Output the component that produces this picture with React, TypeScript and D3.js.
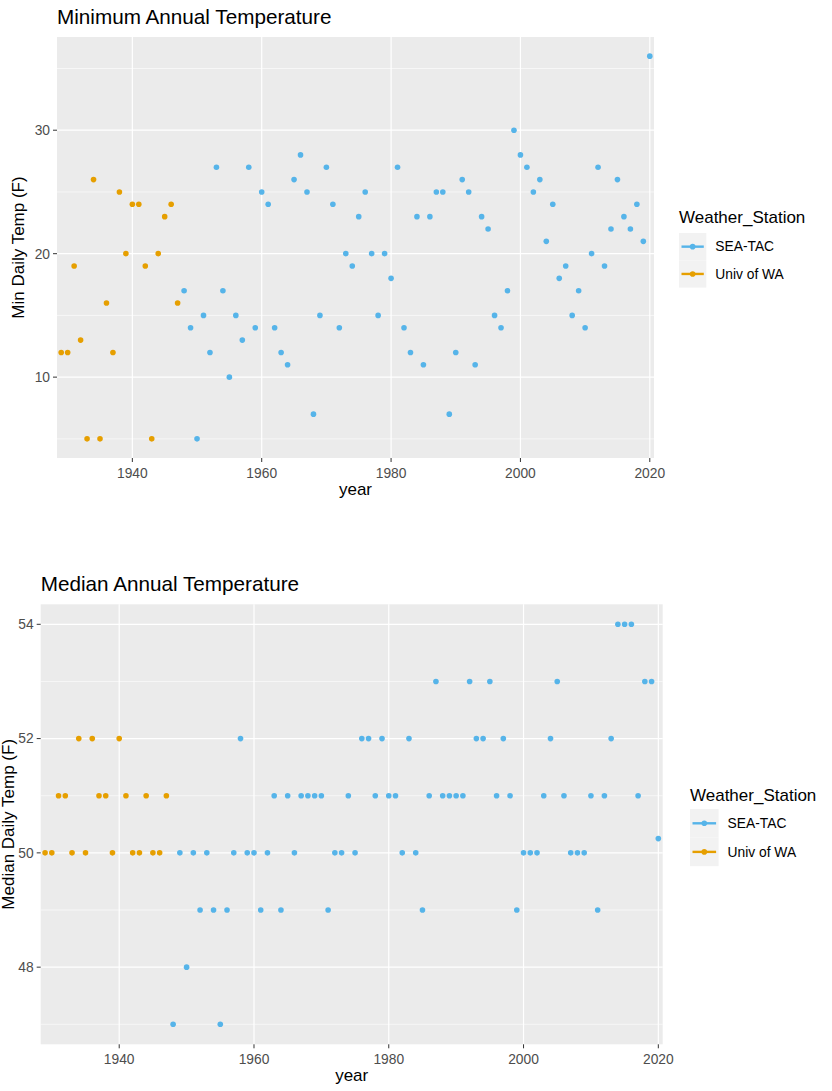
import React from "react";
import * as d3 from "d3";

// Univ of WA station (1929-1947)
const UW_YEARS = [1929, 1930, 1931, 1932, 1933, 1934, 1935, 1936, 1937, 1938, 1939, 1940, 1941, 1942, 1943, 1944, 1945, 1946, 1947];
const UW_MIN = [12, 12, 19, 13, 5, 26, 5, 16, 12, 25, 20, 24, 24, 19, 5, 20, 23, 24, 16];
const UW_MEDIAN = [50, 50, 51, 51, 50, 52, 50, 52, 51, 51, 50, 52, 51, 50, 50, 51, 50, 50, 51];

// SEA-TAC station (1948-2020)
const SEA_YEARS = [
  1948, 1949, 1950, 1951, 1952, 1953, 1954, 1955, 1956, 1957, 1958, 1959, 1960, 1961, 1962, 1963, 1964, 1965, 1966, 1967,
  1968, 1969, 1970, 1971, 1972, 1973, 1974, 1975, 1976, 1977, 1978, 1979, 1980, 1981, 1982, 1983, 1984, 1985, 1986, 1987,
  1988, 1989, 1990, 1991, 1992, 1993, 1994, 1995, 1996, 1997, 1998, 1999, 2000, 2001, 2002, 2003, 2004, 2005, 2006, 2007,
  2008, 2009, 2010, 2011, 2012, 2013, 2014, 2015, 2016, 2017, 2018, 2019, 2020,
];
const SEA_MIN = [
  17, 14, 5, 15, 12, 27, 17, 10, 15, 13, 27, 14, 25, 24, 14, 12, 11, 26, 28, 25,
  7, 15, 27, 24, 14, 20, 19, 23, 25, 20, 15, 20, 18, 27, 14, 12, 23, 11, 23, 25,
  25, 7, 12, 26, 25, 11, 23, 22, 15, 14, 17, 30, 28, 27, 25, 26, 21, 24, 18, 19,
  15, 17, 14, 20, 27, 19, 22, 26, 23, 22, 24, 21, 36,
];
const SEA_MEDIAN = [
  47, 50, 48, 50, 49, 50, 49, 47, 49, 50, 52, 50, 50, 49, 50, 51, 49, 51, 50, 51,
  51, 51, 51, 49, 50, 50, 51, 50, 52, 52, 51, 52, 51, 51, 50, 52, 50, 49, 51, 53,
  51, 51, 51, 51, 53, 52, 52, 53, 51, 52, 51, 49, 50, 50, 50, 51, 52, 53, 51, 50,
  50, 50, 51, 49, 51, 52, 54, 54, 54, 51, 53, 53, 50.25,
];

const STATIONS = ["SEA-TAC", "Univ of WA"];
const STATION_COLORS: Record<string, string> = { "SEA-TAC": "#56B4E9", "Univ of WA": "#E69F00" };

const X_TICKS = [1940, 1960, 1980, 2000, 2020];
const MIN_Y_TICKS = [10, 20, 30];
const MEDIAN_Y_TICKS = [48, 50, 52, 54];

const FONT = "'Liberation Sans', Arial, Helvetica, sans-serif";
const PANEL_BG = "#EBEBEB";

type Pt = { year: number; value: number; station: string };

function buildPoints(uwVals: number[], seaVals: number[]): Pt[] {
  const uw = UW_YEARS.map((year, i) => ({ year, value: uwVals[i], station: "Univ of WA" }));
  const sea = SEA_YEARS.map((year, i) => ({ year, value: seaVals[i], station: "SEA-TAC" }));
  return [...uw, ...sea];
}

function ScatterPanel(props: {
  title: string;
  yLabel: string;
  points: Pt[];
  yTicks: number[];
  box: { left: number; right: number; top: number; bottom: number };
  titleY: number;
  yLabelX: number;
  legend: { x: number; titleY: number; keyTop: number; keySize: number };
}) {
  const { title, yLabel, points, yTicks, box, titleY, yLabelX, legend } = props;

  // x: small fixed padding, y: ggplot-style 5% expansion
  const [x0, x1] = d3.extent(points, (d) => d.year) as [number, number];
  const x = d3.scaleLinear().domain([x0 - 0.65, x1 + 0.65]).range([box.left, box.right]);
  const [y0, y1] = d3.extent(points, (d) => d.value) as [number, number];
  const pad = (y1 - y0) * 0.05;
  const y = d3.scaleLinear().domain([y0 - pad, y1 + pad]).range([box.bottom, box.top]);

  const step = yTicks[1] - yTicks[0];
  const yMinor = [...yTicks.map((t) => t - step / 2), yTicks[yTicks.length - 1] + step / 2].filter(
    (t) => t >= y.domain()[0] && t <= y.domain()[1]
  );

  const midY = (box.top + box.bottom) / 2;
  const midX = (box.left + box.right) / 2;

  return (
    <g>
      <text x={box.left} y={titleY} fontSize={20.7} fill="#000" fontFamily={FONT}>
        {title}
      </text>
      <rect x={box.left} y={box.top} width={box.right - box.left} height={box.bottom - box.top} fill={PANEL_BG} />
      {yMinor.map((t) => (
        <line key={"ym" + t} x1={box.left} x2={box.right} y1={y(t)} y2={y(t)} stroke="#fff" strokeWidth={0.6} />
      ))}
      {yTicks.map((t) => (
        <line key={"yM" + t} x1={box.left} x2={box.right} y1={y(t)} y2={y(t)} stroke="#fff" strokeWidth={1.2} />
      ))}
      {X_TICKS.map((t) => (
        <line key={"xM" + t} x1={x(t)} x2={x(t)} y1={box.top} y2={box.bottom} stroke="#fff" strokeWidth={1.2} />
      ))}

      {points.map((d, i) => (
        <circle key={i} cx={x(d.year)} cy={y(d.value)} r={2.8} fill={STATION_COLORS[d.station]} />
      ))}

      {/* y axis */}
      {yTicks.map((t) => (
        <g key={"yt" + t}>
          <line x1={box.left - 4} x2={box.left} y1={y(t)} y2={y(t)} stroke="#333" strokeWidth={1} />
          <text x={box.left - 7} y={y(t)} dy="0.35em" textAnchor="end" fontSize={13.8} fill="#4D4D4D" fontFamily={FONT}>
            {t}
          </text>
        </g>
      ))}
      {/* x axis */}
      {X_TICKS.map((t) => (
        <g key={"xt" + t}>
          <line x1={x(t)} x2={x(t)} y1={box.bottom} y2={box.bottom + 4} stroke="#333" strokeWidth={1} />
          <text x={x(t)} y={box.bottom + 20} textAnchor="middle" fontSize={13.8} fill="#4D4D4D" fontFamily={FONT}>
            {t}
          </text>
        </g>
      ))}
      <text x={midX} y={box.bottom + 37} textAnchor="middle" fontSize={17} fill="#000" fontFamily={FONT}>
        year
      </text>
      <text
        transform={`translate(${yLabelX},${midY}) rotate(-90)`}
        textAnchor="middle"
        fontSize={17}
        fill="#000"
        fontFamily={FONT}
      >
        {yLabel}
      </text>

      {/* legend */}
      <text x={legend.x} y={legend.titleY} fontSize={17} fill="#000" fontFamily={FONT}>
        Weather_Station
      </text>
      {STATIONS.map((s, i) => {
        const ky = legend.keyTop + i * legend.keySize;
        const cy = ky + legend.keySize / 2;
        return (
          <g key={s}>
            <rect x={legend.x} y={ky} width={legend.keySize} height={legend.keySize} fill="#F2F2F2" />
            <line
              x1={legend.x + 2.5}
              x2={legend.x + legend.keySize - 2.5}
              y1={cy}
              y2={cy}
              stroke={STATION_COLORS[s]}
              strokeWidth={2.4}
            />
            <circle cx={legend.x + legend.keySize / 2} cy={cy} r={2.8} fill={STATION_COLORS[s]} />
            <text x={legend.x + legend.keySize + 9} y={cy} dy="0.35em" fontSize={13.8} fill="#000" fontFamily={FONT}>
              {s}
            </text>
          </g>
        );
      })}
    </g>
  );
}

export default function App() {
  const minPoints = buildPoints(UW_MIN, SEA_MIN);
  const medianPoints = buildPoints(UW_MEDIAN, SEA_MEDIAN);

  return (
    <div style={{ position: "absolute", left: 0, top: 0 }}>
      <svg width={832} height={1091} style={{ display: "block", background: "#fff" }}>
        <ScatterPanel
          title="Minimum Annual Temperature"
          yLabel="Min Daily Temp (F)"
          points={minPoints}
          yTicks={MIN_Y_TICKS}
          box={{ left: 57, right: 654, top: 37, bottom: 458 }}
          titleY={24}
          yLabelX={24}
          legend={{ x: 679, titleY: 223, keyTop: 233, keySize: 27.3 }}
        />
        <ScatterPanel
          title="Median Annual Temperature"
          yLabel="Median Daily Temp (F)"
          points={medianPoints}
          yTicks={MEDIAN_Y_TICKS}
          box={{ left: 40.7, right: 662.7, top: 604.3, bottom: 1044.3 }}
          titleY={590.7}
          yLabelX={13.5}
          legend={{ x: 690, titleY: 800.5, keyTop: 809, keySize: 28.6 }}
        />
      </svg>
    </div>
  );
}
